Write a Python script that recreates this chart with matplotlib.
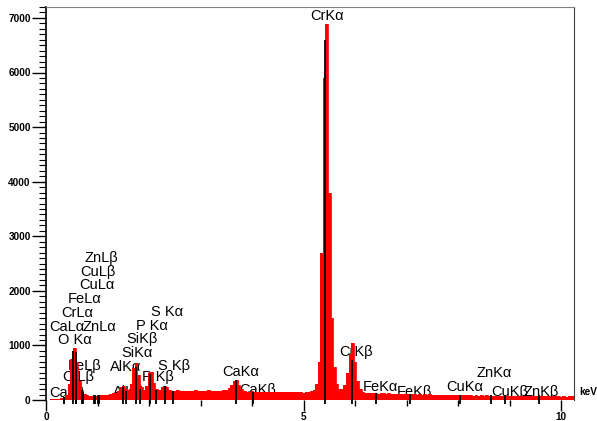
import numpy as np
import matplotlib.pyplot as plt
from matplotlib.ticker import MultipleLocator

plt.rcParams['font.family'] = ['Liberation Sans', 'DejaVu Sans']

# spectrum counts, one value every 0.05 keV starting at 0 keV
counts = [
    0, 5, 10, 15, 20, 25, 30, 45, 100, 300,                      # 0.00 - 0.45
    750, 950, 700, 350, 180,                                      # 0.50 - 0.70
    110, 85, 75, 72, 75, 80,                                      # 0.75 - 1.00
    85, 90, 95, 100, 110, 120, 135, 170,                          # 1.05 - 1.40
    230, 250, 210, 180, 300, 580, 680, 450, 240, 180,             # 1.45 - 1.90
    260, 490, 510, 320, 200, 190, 230, 260, 230, 185,             # 1.95 - 2.40
    170, 165, 175, 160, 170, 165, 172, 168, 160, 175, 165, 170,   # 2.45 - 3.00
    162, 168, 175, 160, 170, 165, 168, 172, 175, 190, 220,        # 3.05 - 3.55
    280, 350, 365, 280, 200,                                      # 3.60 - 3.80
    165, 155, 150, 158, 152, 148, 155, 150, 146, 152, 148, 150,   # 3.85 - 4.40
    145, 150, 143, 148, 140, 146, 142, 145, 138, 144, 140, 136,   # 4.45 - 5.00
    142, 145, 160, 190,                                           # 5.05 - 5.20
    300, 700, 2700, 5900, 6880, 3800, 1500, 600, 300, 210,        # 5.25 - 5.70
    200, 280, 500, 850, 1050, 700, 350, 200, 150,                 # 5.75 - 6.15
    135, 122, 135, 120, 128, 118, 122, 125, 112, 120,             # 6.20 - 6.65
    112, 118, 106, 115, 108, 112, 101, 110, 104, 108,             # 6.70 - 7.15
    99, 106, 98, 104, 93, 102, 95, 100, 91, 98,                   # 7.20 - 7.65
    92, 96, 87, 95, 88, 93, 84, 92, 85, 90,                       # 7.70 - 8.15
    84, 88, 80, 86, 81, 85, 77, 84, 78, 82,                       # 8.20 - 8.65
    77, 81, 74, 80, 75, 79, 72, 78, 73, 77,                       # 8.70 - 9.15
    71, 76, 69, 75, 70, 74, 66, 73, 68, 72,                       # 9.20 - 9.65
    66, 71, 64, 70, 65, 69, 62, 68, 63, 67,                       # 9.70 - 10.15
    66, 65,                                                       # 10.20 - 10.25
]
energy = np.arange(len(counts)) * 0.05

# identified lines: name, energy (keV), marker height (counts)
line_names = ['O K\u03b1', 'CaL\u03b1', 'CaL\u03b2', 'CrL\u03b1', 'CrL\u03b2',
              'FeL\u03b1', 'FeL\u03b2', 'CuL\u03b1', 'CuL\u03b2', 'ZnL\u03b1',
              'ZnL\u03b2', 'AlK\u03b1', 'AlK\u03b2', 'SiK\u03b1', 'SiK\u03b2',
              'P K\u03b1', 'P K\u03b2', 'S K\u03b1', 'S K\u03b2', 'CaK\u03b1',
              'CaK\u03b2', 'CrK\u03b1', 'CrK\u03b2', 'FeK\u03b1', 'FeK\u03b2',
              'CuK\u03b1', 'ZnK\u03b1', 'CuK\u03b2', 'ZnK\u03b2']
line_energy = [0.525, 0.341, 0.345, 0.573, 0.582, 0.705, 0.718, 0.930, 0.950,
               1.012, 1.035, 1.486, 1.557, 1.740, 1.832, 2.013, 2.139, 2.307,
               2.464, 3.690, 4.012, 5.411, 5.947, 6.400, 7.058, 8.040, 8.630,
               8.904, 9.570]
line_height = [900, 60, 60, 880, 700, 180, 150, 90, 90, 100, 100, 240, 170,
               600, 200, 470, 180, 250, 170, 360, 150, 6600, 730, 120, 110,
               100, 100, 90, 90]

# where each label sits (left edge keV, centre counts)
label_x = [0.233, 0.058, 0.058, 0.291, 0.311, 0.427, 0.427, 0.641, 0.660,
           0.718, 0.757, 1.243, 1.301, 1.456, 1.553, 1.748, 1.864, 2.039,
           2.175, 3.420, 3.750, 5.130, 5.690, 6.140, 6.800, 7.770, 8.350,
           8.640, 9.260]
label_y = [1100, 1338, 128, 1594, 421, 1851, 623, 2107, 2346, 1338, 2600,
           605, 147, 861, 1118, 1356, 421, 1613, 623, 510, 180, 7037, 880,
           240, 150, 240, 500, 150, 150]

fig = plt.figure(figsize=(5.97, 4.21), dpi=100)
ax = fig.add_axes([46 / 597, 21 / 421, 528 / 597, 393 / 421])

ax.fill_between(energy, counts, step='mid', color='red', lw=0, zorder=2)
ax.step(energy, counts, where='mid', color='red', lw=0.6, zorder=2)

ax.vlines(line_energy, -70, line_height, color='black', lw=1.3, zorder=3,
          clip_on=False)

for name, lx, ly in zip(line_names, label_x, label_y):
    ax.text(lx, ly, name, fontsize=10.5, ha='left', va='center', zorder=1)

ax.set_xlim(0, 10.25)
ax.set_ylim(0, 7200)

ax.xaxis.set_major_locator(MultipleLocator(5))
ax.xaxis.set_minor_locator(MultipleLocator(1))
ax.yaxis.set_major_locator(MultipleLocator(1000))
ax.yaxis.set_minor_locator(MultipleLocator(100))

ax.tick_params(axis='both', which='major', labelsize=7.2, width=1, color='black')
ax.tick_params(axis='x', which='major', length=8, pad=1)
ax.tick_params(axis='x', which='minor', length=4, width=1)
ax.tick_params(axis='y', which='major', length=10, pad=1)
ax.tick_params(axis='y', which='minor', length=5, width=0.8)
for lab in ax.get_xticklabels() + ax.get_yticklabels():
    lab.set_fontweight('bold')

ax.spines['bottom'].set_visible(False)
ax.spines['top'].set_color('#808080')
ax.spines['right'].set_color('#404040')
ax.spines['left'].set_linewidth(1.2)

fig.text(579 / 597, (421 - 392) / 421, 'keV', fontsize=7.2, fontweight='bold',
         va='center', ha='left')

fig.savefig('out.png', dpi=100)
